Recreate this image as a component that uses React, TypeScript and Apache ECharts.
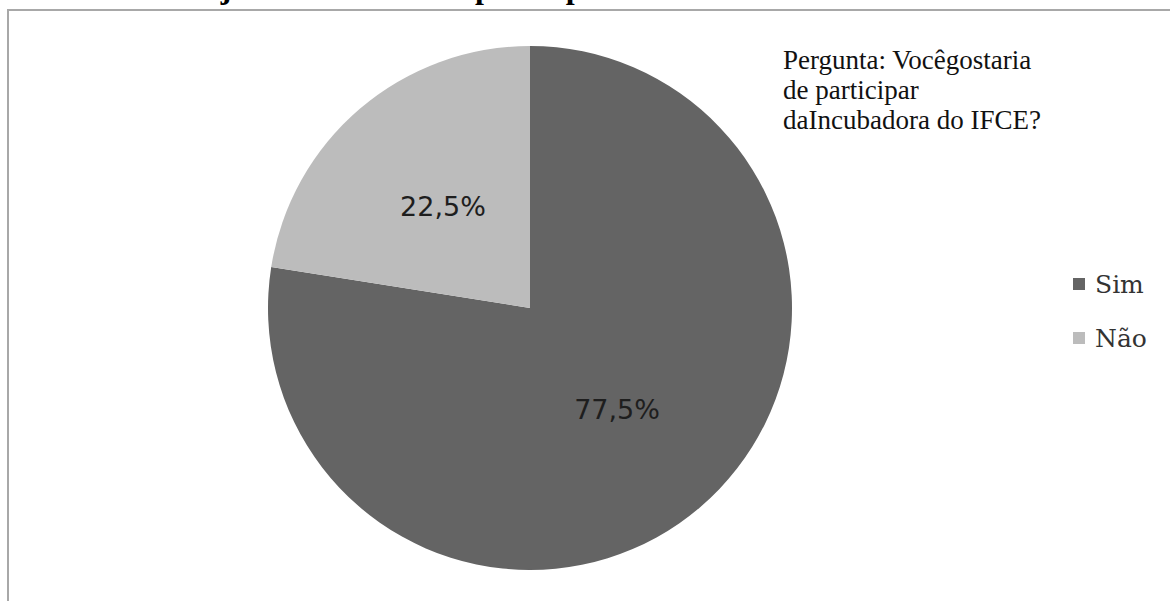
import React, { useEffect, useRef } from "react";
import * as echarts from "echarts";

// Answers to "Você gostaria de participar da Incubadora do IFCE?"
const categories = ["Sim", "Não"];
const shares = [77.5, 22.5];
const sliceColors = ["#646464", "#bcbcbc"];
const questionLines = ["Pergunta: Vocêgostaria", "de participar", "daIncubadora do IFCE?"];
const captionText = "Gráfico 3 – Desejo de discentes em participar da Incubadora";

const fmtPct = (v: number) => v.toFixed(1).replace(".", ",") + "%";

export default function App() {
  const ref = useRef<HTMLDivElement>(null);

  useEffect(() => {
    document.body.style.margin = "0";
    if (!ref.current) return;
    const chart = echarts.init(ref.current, null, { renderer: "svg" });
    chart.setOption({
      animation: false,
      backgroundColor: "#ffffff",
      legend: {
        orient: "vertical",
        left: 1068,
        top: 263,
        icon: "rect",
        itemWidth: 12,
        itemHeight: 12,
        itemGap: 22,
        data: categories,
        textStyle: {
          fontFamily: "DejaVu Serif",
          fontSize: 25,
          lineHeight: 32,
          color: "#333333",
          padding: [0, 0, 0, 5],
        },
      },
      graphic: [
        {
          type: "rect",
          silent: true,
          shape: { x: 8, y: 10, width: 1300, height: 800 },
          style: { fill: "none", stroke: "#a8a8a8", lineWidth: 2 },
        },
        {
          type: "text",
          silent: true,
          x: -4,
          y: 3,
          style: {
            text: captionText,
            fontFamily: "Liberation Serif",
            fontWeight: "bold",
            fontSize: 32,
            fill: "#000000",
            verticalAlign: "bottom",
          },
        },
        {
          type: "text",
          silent: true,
          x: 783,
          y: 45,
          style: {
            text: questionLines.join("\n"),
            fontFamily: "Liberation Serif",
            fontSize: 27,
            lineHeight: 30,
            fill: "#111111",
            verticalAlign: "top",
          },
        },
      ],
      series: [
        {
          type: "pie",
          center: [530, 308],
          radius: 262,
          startAngle: 90,
          clockwise: true,
          silent: true,
          data: categories.map((name, i) => ({
            name,
            value: shares[i],
            itemStyle: { color: sliceColors[i] },
          })),
          label: {
            show: true,
            position: "inside",
            formatter: (p: any) => fmtPct(p.value),
            fontFamily: "DejaVu Sans",
            fontSize: 27,
            color: "#1e1e1e",
          },
          labelLine: { show: false },
        },
      ],
    });
    return () => chart.dispose();
  }, []);

  return <div ref={ref} style={{ width: 1170, height: 601 }} />;
}
